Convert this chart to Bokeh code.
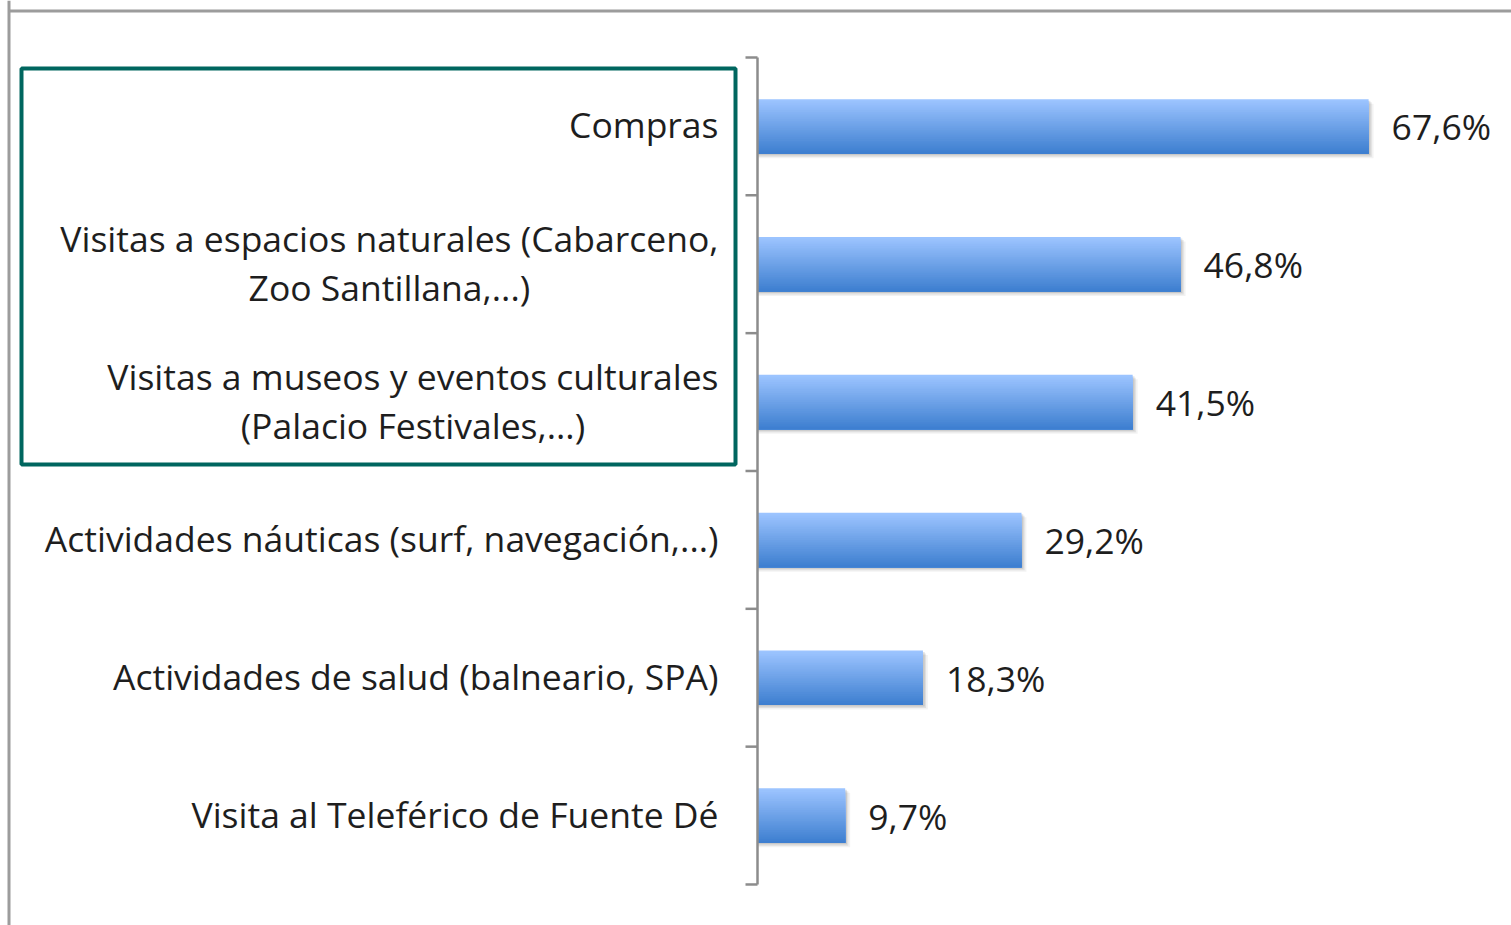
import numpy as np
from bokeh.plotting import figure
from bokeh.models import ColumnDataSource, Span, BoxAnnotation
from bokeh.core.properties import value
from bokeh.embed import file_html
from bokeh.resources import INLINE

# ---------------- data ----------------
categories = [
    "Compras",
    "Visitas a espacios naturales (Cabarceno,\nZoo Santillana,...)",
    "Visitas a museos y eventos culturales\n(Palacio Festivales,...)",
    "Actividades náuticas (surf, navegación,...)",
    "Actividades de salud (balneario, SPA)",
    "Visita al Teleférico de Fuente Dé",
]
values = [67.6, 46.8, 41.5, 29.2, 18.3, 9.7]
value_labels = [f"{v:.1f}%".replace(".", ",") for v in values]
highlighted = 3  # first three categories are framed

# ---------------- layout ----------------
W, H = 1511, 925
px_per_unit = 9.04          # pixels per percentage point
zero_px = 757               # pixel position of the value axis
cat_px = 137.83             # pixels per category
top_px = 57                 # pixel of the top category boundary
n = len(categories)

x_start = -zero_px / px_per_unit
x_end = (W - zero_px) / px_per_unit
y_end = n + top_px / cat_px
y_start = y_end - H / cat_px

ys = [n - i - 0.5 for i in range(n)]
bar_h = 0.395

FONT = "Open Sans"
FS = "35.5px"
TXT = "#1e1e1e"

p = figure(width=W, height=H, x_range=(x_start, x_end), y_range=(y_start, y_end),
           output_backend="svg", toolbar_location=None,
           x_axis_location=None, y_axis_location=None,
           min_border=0, outline_line_color=None, background_fill_color="white")
p.grid.visible = False

# outer frame (top and left border)
p.add_layout(Span(location=x_start + 8.5 / px_per_unit, dimension="height",
                  line_color="#9c9c9c", line_width=3))
p.add_layout(BoxAnnotation(left=x_start + 8.5 / px_per_unit, top=y_end - 9 / cat_px,
                           bottom=y_end - 12 / cat_px, fill_color="#9c9c9c",
                           fill_alpha=1, line_color=None))

src = ColumnDataSource(dict(y=ys, v=values, cat=categories, lab=value_labels))

# shadows
for dx, dy, a in [(0.55, 4.5, 0.05), (0.35, 3.0, 0.08), (0.2, 1.5, 0.10)]:
    p.hbar(y=[y - dy / cat_px for y in ys], left=0,
           right=[v + dx for v in values], height=bar_h,
           fill_color="#000000", fill_alpha=a, line_color=None)

# gradient bars: light on top, darker at bottom
top_c = np.array([156, 196, 255])
bot_c = np.array([62, 127, 208])
nsl = 30
for j in range(nsl):
    t = j / (nsl - 1)
    c = top_c + (bot_c - top_c) * t
    col = "#%02x%02x%02x" % tuple(int(round(x)) for x in c)
    p.quad(left=0, right=values,
           top=[y + bar_h / 2 - j * bar_h / nsl for y in ys],
           bottom=[y - bar_h / 2 for y in ys],
           fill_color=col, line_color=None)

# category axis line and boundary ticks
p.segment(x0=[0], y0=[0], x1=[0], y1=[n], line_color="#8c8c8c", line_width=2.5)
tick_len = 12 / px_per_unit
p.segment(x0=[-tick_len] * (n + 1), y0=list(range(n + 1)),
          x1=[0] * (n + 1), y1=list(range(n + 1)),
          line_color="#8c8c8c", line_width=2.5)

# category labels
p.text(x=-39 / px_per_unit, y="y", text="cat", source=src, anchor="center_right",
       text_align="center", text_baseline="middle", y_offset=-2,
       text_font=value(FONT), text_font_size=FS, text_color=TXT,
       text_line_height=1.02)

# value labels
p.text(x="v", y="y", text="lab", source=src, x_offset=23,
       text_align="left", text_baseline="middle",
       text_font=value(FONT), text_font_size=FS, text_color=TXT)

# highlight frame around first categories
p.add_layout(BoxAnnotation(left=-(zero_px - 21) / px_per_unit, right=-(zero_px - 735) / px_per_unit,
                           bottom=y_end - 464 / cat_px, top=y_end - 68 / cat_px,
                           fill_alpha=0, line_color="#00665f", line_alpha=1.0, line_width=4))

open("out.html", "w").write(file_html(p, INLINE))
